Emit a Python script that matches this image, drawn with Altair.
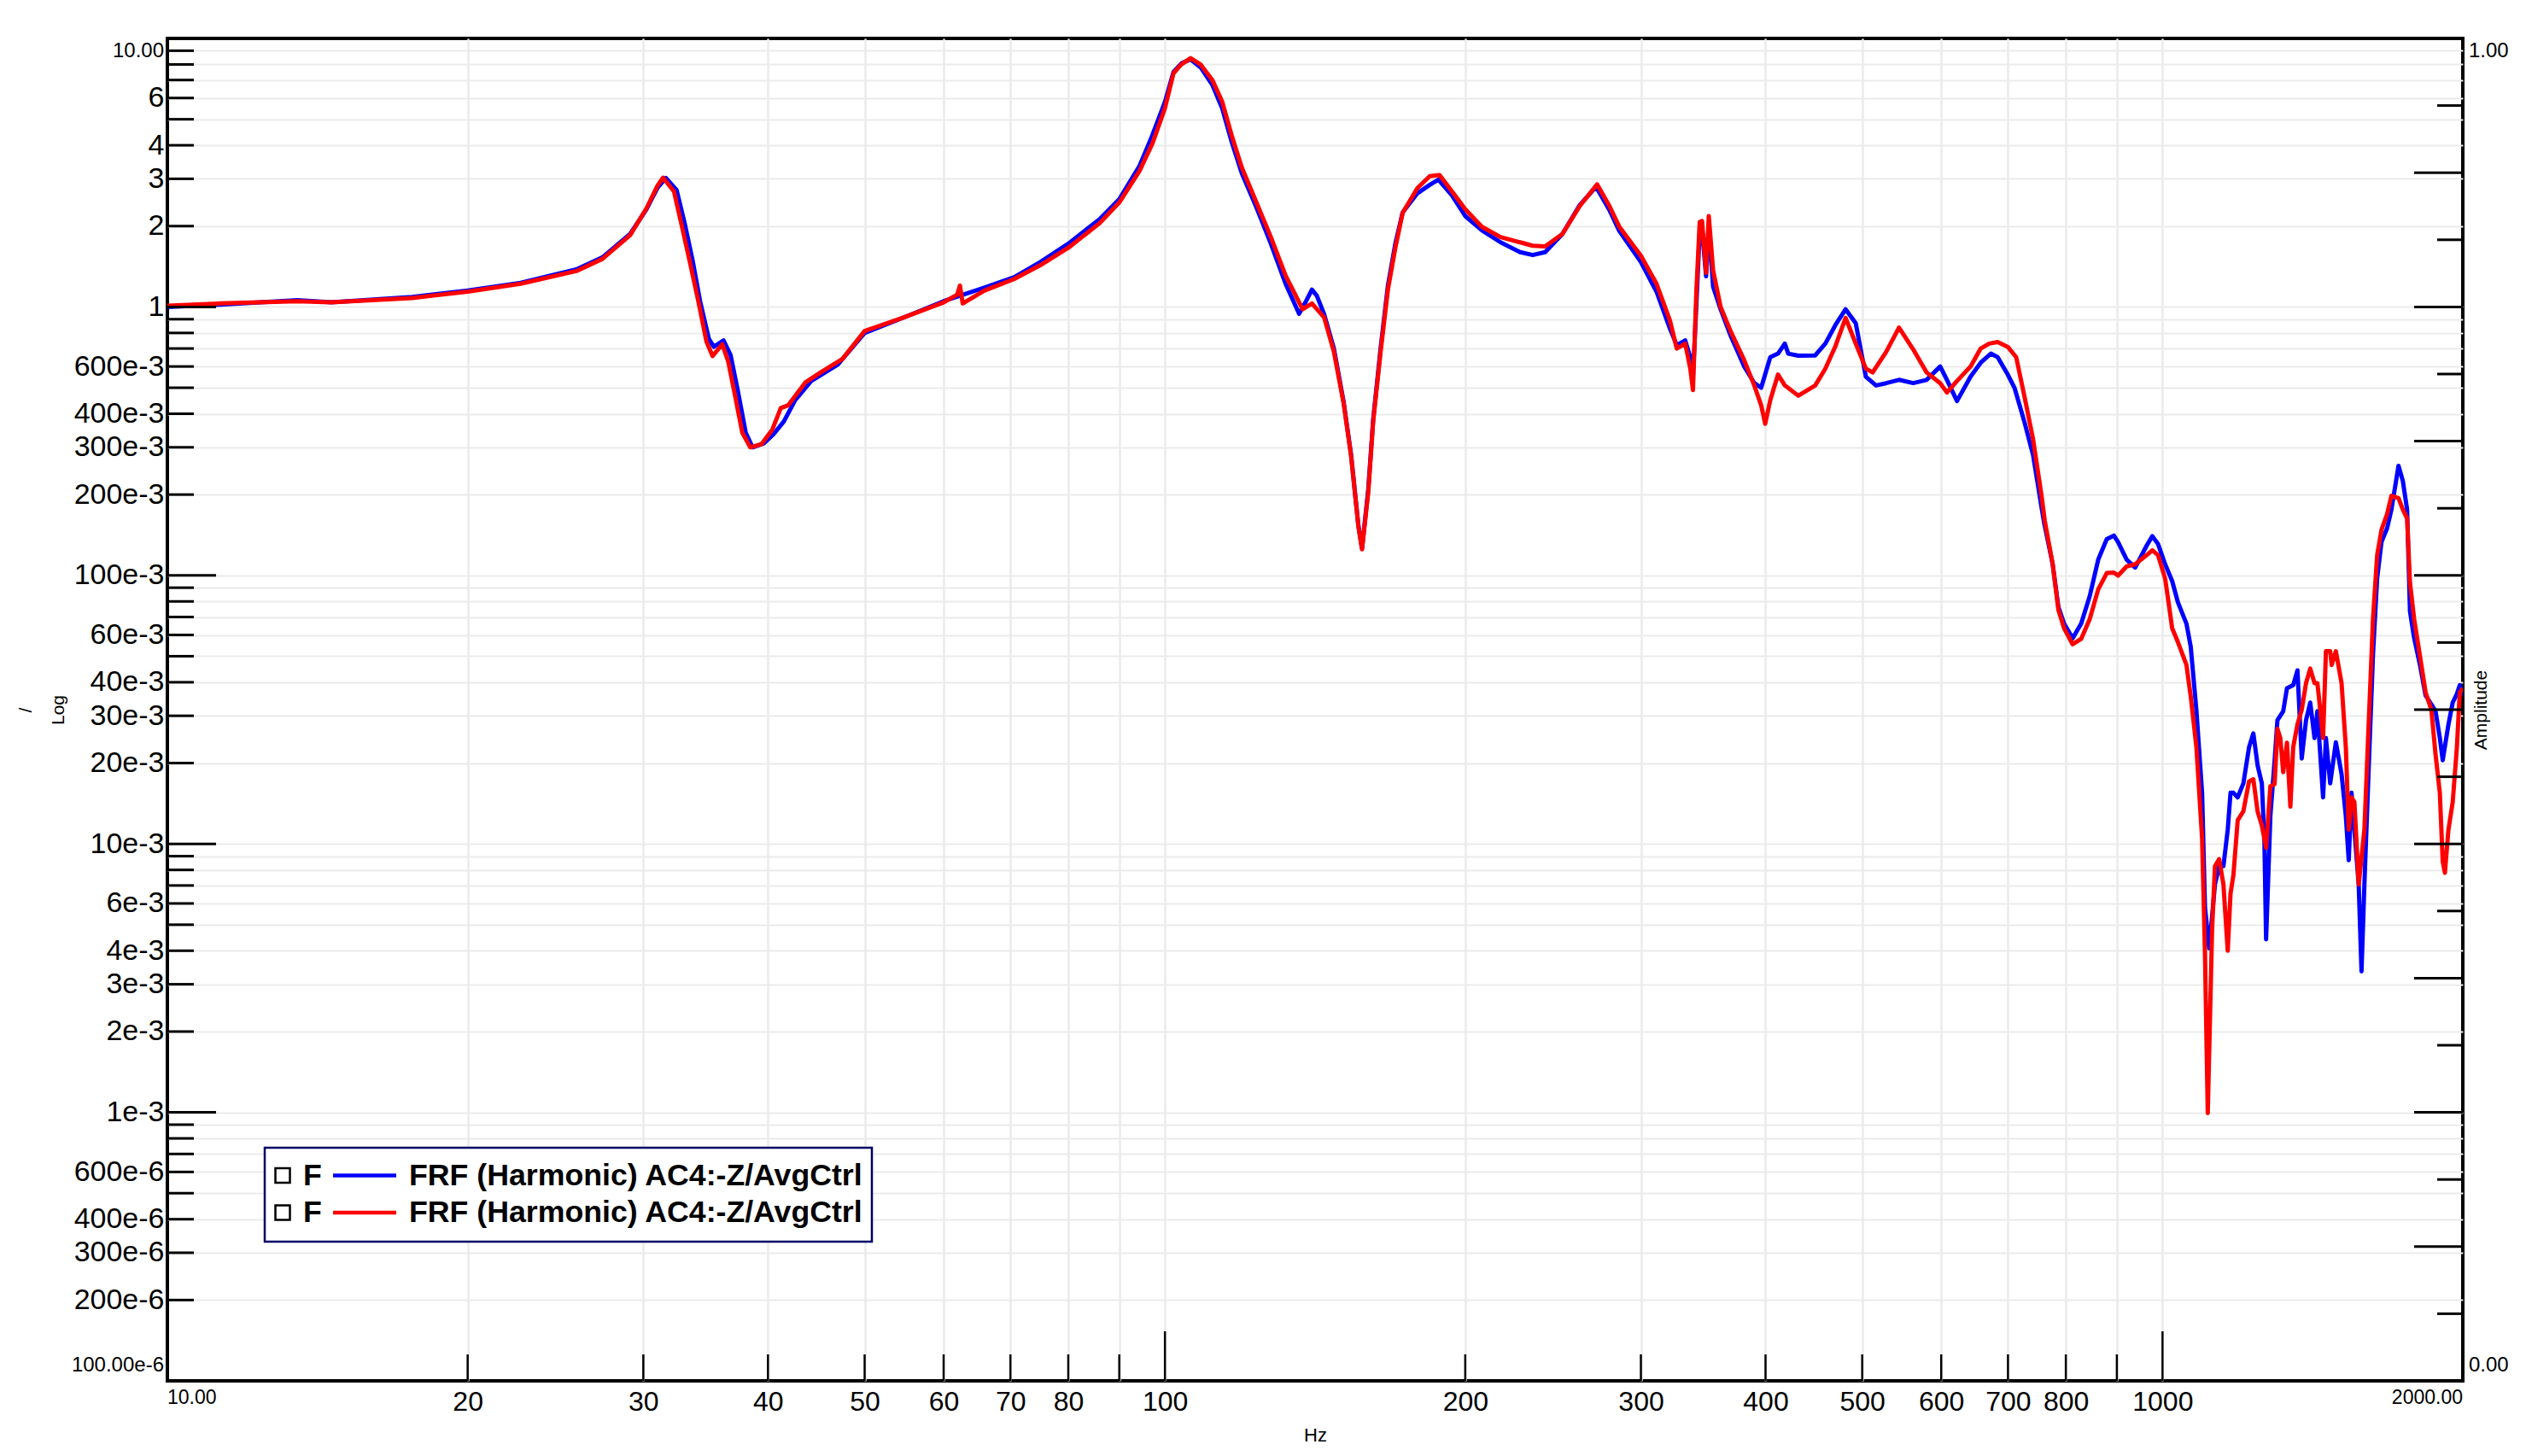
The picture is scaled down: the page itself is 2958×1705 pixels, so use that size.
import altair as alt
import pandas as pd

# ---------------- data ----------------
blue_points = [
    (10.0, 1.00), (11.3, 1.02), (13.5, 1.06), (14.6, 1.04), (17.6, 1.09), (20.0, 1.15), (22.6, 1.23),
    (25.7, 1.38), (27.3, 1.53), (29.1, 1.87), (30.2, 2.30), (31.0, 2.78), (31.6, 3.02), (32.4, 2.72),
    (33.0, 2.05), (33.6, 1.50), (34.2, 1.05), (34.9, 0.76), (35.3, 0.71), (36.1, 0.75), (36.7, 0.66),
    (37.3, 0.49), (38.0, 0.34), (38.6, 0.30), (39.6, 0.31), (40.5, 0.335), (41.5, 0.375), (42.6, 0.45),
    (44.2, 0.53), (47.0, 0.61), (50.0, 0.80), (54.6, 0.91), (60.0, 1.05), (65.9, 1.18), (70.6, 1.29),
    (75.0, 1.47), (80.0, 1.72), (86.0, 2.12), (90.0, 2.52), (94.3, 3.35), (97.0, 4.3), (100.0, 5.8),
    (102.0, 7.5), (104.0, 8.1), (106.1, 8.35), (108.6, 7.8), (111.6, 6.7), (114.1, 5.5), (116.7, 4.1),
    (119.4, 3.15), (123.5, 2.35), (127.7, 1.72), (132.1, 1.22), (136.3, 0.943), (138.5, 1.05),
    (140.4, 1.16), (142.0, 1.10), (144.4, 0.94), (147.7, 0.70), (151.1, 0.44), (153.7, 0.28),
    (156.3, 0.153), (157.6, 0.126), (159.9, 0.21), (161.7, 0.38), (164.5, 0.70), (167.3, 1.2),
    (170.2, 1.72), (173.1, 2.25), (179.1, 2.65), (184.3, 2.85), (188.0, 2.98), (194.0, 2.6),
    (200.0, 2.18), (207.8, 1.93), (217.0, 1.74), (227.0, 1.60), (233.7, 1.56), (240.5, 1.60),
    (250.3, 1.87), (260.6, 2.40), (270.5, 2.80), (278.9, 2.30), (285.4, 1.92), (300.0, 1.47),
    (311.0, 1.14), (320.8, 0.83), (325.9, 0.72), (332.3, 0.75), (336.2, 0.65), (338.3, 0.55),
    (340.9, 1.0), (343.6, 1.9), (345.5, 1.95), (348.7, 1.3), (350.9, 2.0), (354.4, 1.19),
    (360.6, 0.98), (369.1, 0.78), (380.8, 0.60), (389.8, 0.52), (396.0, 0.50), (404.4, 0.65),
    (411.7, 0.67), (418.2, 0.73), (421.5, 0.67), (431.4, 0.658), (448.6, 0.66), (459.2, 0.73),
    (470.1, 0.857), (481.2, 0.98), (492.6, 0.87), (504.2, 0.55), (516.2, 0.51), (528.4, 0.52),
    (544.3, 0.535), (562.4, 0.52), (580.2, 0.535), (598.6, 0.60), (608.0, 0.535), (622.3, 0.446),
    (642.1, 0.55), (657.3, 0.62), (672.9, 0.67), (683.5, 0.65), (699.6, 0.56), (710.6, 0.50),
    (727.5, 0.37), (741.8, 0.28), (756.4, 0.179), (760.9, 0.157), (776.1, 0.110), (786.4, 0.0763),
    (796.8, 0.0661), (812.7, 0.0583), (828.8, 0.0661), (845.3, 0.0836), (862.1, 0.1145),
    (879.3, 0.1366), (893.8, 0.1407), (902.6, 0.133), (920.6, 0.1145), (938.9, 0.107), (964.0, 0.129),
    (976.8, 0.140), (989.7, 0.131), (1006.1, 0.110), (1022.6, 0.0952), (1036.1, 0.0795),
    (1056.8, 0.0661), (1067.3, 0.0543), (1081.4, 0.0314), (1095.7, 0.0155), (1103.0, 0.0058),
    (1113.7, 0.00408), (1128.7, 0.00706), (1139.7, 0.00826), (1151.0, 0.00826), (1162.5, 0.0113),
    (1170.0, 0.0155), (1177.8, 0.0155), (1189.5, 0.0149), (1205.2, 0.0168), (1221.1, 0.0229),
    (1233.3, 0.0258), (1245.5, 0.0196), (1257.7, 0.0168), (1265.0, 0.0105), (1270.1, 0.00441),
    (1282.7, 0.0127), (1295.3, 0.0204), (1303.8, 0.0289), (1321.3, 0.0312), (1332.8, 0.0380),
    (1352.1, 0.0390), (1365.5, 0.0443), (1379.0, 0.0208), (1392.8, 0.0289), (1406.3, 0.0336),
    (1420.3, 0.0248), (1429.8, 0.0312), (1448.7, 0.0149), (1458.2, 0.0248), (1472.6, 0.0168),
    (1492.0, 0.0239), (1511.8, 0.0182), (1526.8, 0.0127), (1537.0, 0.0087), (1547.0, 0.0155),
    (1572.8, 0.00706), (1583.0, 0.00335), (1593.6, 0.00706), (1609.4, 0.0190), (1625.5, 0.0506),
    (1641.2, 0.0975), (1657.6, 0.133), (1679.5, 0.150), (1696.2, 0.176), (1724.2, 0.256),
    (1741.4, 0.225), (1758.7, 0.176), (1770.4, 0.0735), (1787.6, 0.0584), (1811.5, 0.0465),
    (1835.4, 0.0357), (1860.0, 0.0331), (1878.1, 0.0312), (1896.7, 0.0248), (1909.4, 0.0205),
    (1934.7, 0.0278), (1953.9, 0.0336), (1972.9, 0.0362), (1986.1, 0.0390), (2000.0, 0.0357),
]

red_points = [
    (10.0, 1.01), (11.3, 1.03), (13.5, 1.05), (14.6, 1.04), (17.6, 1.08), (20.0, 1.14), (22.6, 1.22),
    (25.7, 1.36), (27.3, 1.51), (29.1, 1.85), (30.2, 2.32), (31.0, 2.83), (31.4, 3.03), (32.2, 2.69),
    (32.8, 1.99), (33.4, 1.47), (34.1, 1.03), (34.7, 0.744), (35.2, 0.656), (36.0, 0.726),
    (36.5, 0.624), (37.0, 0.485), (37.7, 0.34), (38.4, 0.30), (39.4, 0.308), (40.4, 0.349),
    (41.2, 0.42), (41.9, 0.43), (43.6, 0.523), (45.2, 0.571), (47.5, 0.64), (50.0, 0.813),
    (54.6, 0.911), (60.0, 1.04), (61.9, 1.11), (62.3, 1.2), (62.7, 1.03), (65.9, 1.15), (70.6, 1.27),
    (75.0, 1.43), (80.0, 1.66), (86.0, 2.05), (90.0, 2.45), (94.3, 3.21), (97.2, 4.08), (100.0, 5.5),
    (102.0, 7.42), (103.8, 7.99), (106.1, 8.44), (108.6, 7.99), (111.6, 6.98), (114.1, 5.83),
    (116.7, 4.33), (119.4, 3.31), (123.5, 2.45), (127.7, 1.82), (132.1, 1.31), (137.4, 0.98),
    (140.4, 1.03), (144.4, 0.915), (147.7, 0.68), (151.1, 0.434), (153.7, 0.277), (156.3, 0.152),
    (157.6, 0.125), (159.9, 0.205), (161.7, 0.373), (164.5, 0.679), (167.3, 1.16), (170.2, 1.66),
    (173.1, 2.24), (179.1, 2.77), (184.3, 3.07), (188.5, 3.1), (194.0, 2.69), (200.0, 2.31),
    (207.8, 1.99), (217.0, 1.82), (227.0, 1.74), (233.7, 1.69), (240.5, 1.68), (250.3, 1.87),
    (260.6, 2.38), (271.2, 2.86), (278.9, 2.38), (285.4, 1.99), (300.0, 1.55), (311.0, 1.22),
    (320.8, 0.89), (325.9, 0.70), (332.3, 0.73), (336.2, 0.59), (338.3, 0.49), (340.9, 1.12),
    (343.6, 2.07), (345.5, 2.09), (348.7, 1.34), (350.9, 2.18), (354.4, 1.37), (360.6, 1.0),
    (369.1, 0.81), (380.8, 0.633), (389.8, 0.509), (396.0, 0.43), (399.7, 0.367), (404.4, 0.45),
    (411.7, 0.56), (418.2, 0.51), (431.4, 0.467), (448.6, 0.51), (459.2, 0.589), (470.1, 0.715),
    (481.2, 0.91), (492.6, 0.73), (504.2, 0.589), (512.2, 0.57), (528.4, 0.68), (544.3, 0.837),
    (562.4, 0.695), (580.2, 0.57), (598.6, 0.52), (608.0, 0.48), (622.3, 0.53), (642.1, 0.60),
    (657.3, 0.70), (670.3, 0.73), (683.5, 0.74), (699.6, 0.71), (713.4, 0.65), (727.5, 0.46),
    (741.8, 0.321), (756.4, 0.198), (762.0, 0.160), (776.1, 0.110), (786.4, 0.0743), (796.8, 0.0635),
    (812.7, 0.0554), (828.8, 0.058), (845.3, 0.0687), (862.1, 0.0887), (879.3, 0.102),
    (893.8, 0.1025), (902.6, 0.0998), (920.6, 0.108), (938.9, 0.110), (964.0, 0.119), (976.8, 0.124),
    (989.7, 0.119), (1006.1, 0.0974), (1022.6, 0.0635), (1036.1, 0.0565), (1056.8, 0.0464),
    (1067.3, 0.0354), (1081.4, 0.0229), (1095.7, 0.01045), (1103.0, 0.00392), (1110.1, 0.000993),
    (1121.2, 0.00477), (1128.7, 0.00826), (1139.7, 0.00877), (1151.0, 0.00706), (1162.5, 0.0040),
    (1170.0, 0.00653), (1177.8, 0.00764), (1189.5, 0.01224), (1205.2, 0.01323), (1221.1, 0.0171),
    (1233.3, 0.0174), (1245.5, 0.0132), (1257.7, 0.0117), (1270.1, 0.00967), (1282.7, 0.0164),
    (1295.3, 0.0167), (1303.8, 0.0268), (1312.4, 0.0248), (1321.3, 0.0185), (1332.8, 0.0238),
    (1343.3, 0.01376), (1352.1, 0.0229), (1365.5, 0.0279), (1379.0, 0.0316), (1392.8, 0.0397),
    (1406.3, 0.045), (1420.3, 0.0397), (1429.8, 0.0397), (1439.1, 0.0316), (1448.7, 0.0248),
    (1458.2, 0.0522), (1472.6, 0.0522), (1477.7, 0.0464), (1492.0, 0.0522), (1511.8, 0.0397),
    (1526.8, 0.0229), (1537.0, 0.0113), (1547.0, 0.0149), (1557.3, 0.0143), (1572.8, 0.00706),
    (1593.6, 0.0113), (1609.4, 0.0279), (1625.5, 0.0687), (1641.2, 0.119), (1657.6, 0.1477),
    (1679.5, 0.1695), (1696.2, 0.198), (1724.2, 0.194), (1741.4, 0.176), (1758.7, 0.163),
    (1770.4, 0.094), (1787.6, 0.0687), (1811.5, 0.0502), (1835.4, 0.0367), (1860.0, 0.0316),
    (1878.1, 0.0215), (1896.7, 0.0155), (1909.4, 0.0086), (1919.1, 0.0078), (1934.7, 0.0113),
    (1953.9, 0.0143), (1972.9, 0.0229), (1986.1, 0.0367), (2000.0, 0.038),
]

series_colors = ["#0000ff", "#ff0000"]
legend_prefix = ["F", "F"]
legend_labels = ["FRF (Harmonic) AC4:-Z/AvgCtrl", "FRF (Harmonic) AC4:-Z/AvgCtrl"]

y_label_values = [6, 4, 3, 2, 1, 0.6, 0.4, 0.3, 0.2, 0.1, 0.06, 0.04, 0.03, 0.02, 0.01,
                  0.006, 0.004, 0.003, 0.002, 0.001, 0.0006, 0.0004, 0.0003, 0.0002]
y_label_text = ["6", "4", "3", "2", "1", "600e-3", "400e-3", "300e-3", "200e-3", "100e-3",
                "60e-3", "40e-3", "30e-3", "20e-3", "10e-3", "6e-3", "4e-3", "3e-3", "2e-3", "1e-3",
                "600e-6", "400e-6", "300e-6", "200e-6"]
y_edge_values = [10.0, 0.0001]
y_edge_text = ["10.00", "100.00e-6"]
x_label_values = [20, 30, 40, 50, 60, 70, 80, 100, 200, 300, 400, 500, 600, 700, 800, 1000]
x_label_text = ["20", "30", "40", "50", "60", "70", "80", "100", "200", "300", "400",
                "500", "600", "700", "800", "1000"]
x_edge_values = [10.0, 2000.0]
x_edge_text = ["10.00", "2000.00"]
amp_edge_values = [1.0, 0.0]
amp_edge_text = ["1.00", "0.00"]

# tick positions (1..9 per decade)
y_decades = [0.0001, 0.001, 0.01, 0.1, 1.0]
y_ticks_short = [round(m * d, 10) for d in y_decades for m in range(2, 10)]
y_ticks_long = [0.001, 0.01, 0.1, 1.0]
x_ticks_short = [round(m * d, 6) for d in [10, 100] for m in range(2, 10)]
x_ticks_long = [100, 1000]
amp_ticks_short = [0.05, 0.15, 0.25, 0.35, 0.45, 0.55, 0.65, 0.75, 0.85, 0.95]
amp_ticks_long = [0.1, 0.2, 0.3, 0.4, 0.5, 0.6, 0.7, 0.8, 0.9]

# ---------------- layout ----------------
W, H = 2688, 1572
NARROW = "Liberation Sans Narrow, Arial Narrow, Liberation Sans, Arial"
REG = "Liberation Sans, Arial"


def lookup_expr(values, texts):
    expr = "''"
    for v, t in reversed(list(zip(values, texts))):
        tol = abs(v) * 1e-4
        expr = "(abs(datum.value - %r) <= %.3e ? '%s' : %s)" % (v, tol, t, expr)
    return expr


xscale = alt.Scale(type="log", domain=[10, 2000], nice=False)
yscale = alt.Scale(type="log", domain=[0.0001, 10], nice=False)

y_axis = alt.Axis(
    values=sorted(y_ticks_short + y_ticks_long),
    labelExpr=lookup_expr(y_label_values, y_label_text),
    ticks=False, tickSize=0, domain=False,
    grid=True, gridColor="#ebebeb", gridWidth=2,
    labelFont=REG, labelColor="black", labelFontSize=34,
    labelBaseline="middle", labelPadding=4, labelOverlap=False, labelFlush=False,
    title=["/", "Log"], titleAngle=270, titleX=-166, titleY=H / 2,
    titleFont=REG, titleFontSize=21, titleFontWeight="normal", titleLineHeight=38,
    titleAlign="center", titleBaseline="middle", titleColor="black",
)

x_axis = alt.Axis(
    values=x_ticks_short[:8] + [100] + x_ticks_short[8:] + [1000],
    labelExpr=lookup_expr(x_label_values, x_label_text),
    ticks=False, tickSize=0, domain=False,
    grid=True, gridColor="#ebebeb", gridWidth=2.5,
    labelFont=NARROW, labelFontSize=32,
    labelColor="black", labelPadding=9, labelOverlap=False, labelFlush=False,
    title="Hz", titleFont=NARROW, titleFontSize=22, titleFontWeight="normal",
    titleX=W / 2, titleY=63, titleAlign="center", titleBaseline="middle", titleColor="black",
)

blue_df = pd.DataFrame(blue_points, columns=["f", "v"])
red_df = pd.DataFrame(red_points, columns=["f", "v"])

# (other layers share these scales and omit the axis spec, so the explicit one is used)
blue_line = alt.Chart(blue_df).mark_line(color=series_colors[0], strokeWidth=5, clip=True,
                                         strokeJoin="round").encode(
    x=alt.X("f:Q", scale=xscale, axis=x_axis),
    y=alt.Y("v:Q", scale=yscale, axis=y_axis),
)
red_line = alt.Chart(red_df).mark_line(color=series_colors[1], strokeWidth=5, clip=True,
                                       strokeJoin="round").encode(
    x=alt.X("f:Q", scale=xscale),
    y=alt.Y("v:Q", scale=yscale),
)

# inward tick marks
yts = alt.Chart(pd.DataFrame({"v": y_ticks_short})).mark_rule(color="black", strokeWidth=3).encode(
    y=alt.Y("v:Q", scale=yscale), x=alt.value(0), x2=alt.value(31))
ytl = alt.Chart(pd.DataFrame({"v": y_ticks_long})).mark_rule(color="black", strokeWidth=3).encode(
    y=alt.Y("v:Q", scale=yscale), x=alt.value(0), x2=alt.value(57))
xts = alt.Chart(pd.DataFrame({"f": x_ticks_short})).mark_rule(color="black", strokeWidth=2.5).encode(
    x=alt.X("f:Q", scale=xscale), y=alt.value(H), y2=alt.value(H - 31))
xtl = alt.Chart(pd.DataFrame({"f": x_ticks_long})).mark_rule(color="black", strokeWidth=2.5).encode(
    x=alt.X("f:Q", scale=xscale), y=alt.value(H), y2=alt.value(H - 58))

# small edge labels (range ends)
y_top = alt.Chart(pd.DataFrame({"v": y_edge_values[:1], "t": y_edge_text[:1]})).mark_text(
    align="right", baseline="middle", font=REG, fontSize=24, color="black", dy=15).encode(
    y=alt.Y("v:Q", scale=yscale), x=alt.value(-4), text="t:N")
y_bot = alt.Chart(pd.DataFrame({"v": y_edge_values[1:], "t": y_edge_text[1:]})).mark_text(
    align="right", baseline="middle", font=REG, fontSize=24, color="black", dy=-18).encode(
    y=alt.Y("v:Q", scale=yscale), x=alt.value(-4), text="t:N")
x_left = alt.Chart(pd.DataFrame({"f": x_edge_values[:1], "t": x_edge_text[:1]})).mark_text(
    align="left", baseline="top", font=REG, fontSize=23, color="black").encode(
    x=alt.X("f:Q", scale=xscale), y=alt.value(H + 9), text="t:N")
x_right = alt.Chart(pd.DataFrame({"f": x_edge_values[1:], "t": x_edge_text[1:]})).mark_text(
    align="right", baseline="top", font=REG, fontSize=23, color="black").encode(
    x=alt.X("f:Q", scale=xscale), y=alt.value(H + 9), text="t:N")

# legend box
LX0, LX1, LY0, LY1 = 114, 825, 1299, 1409
ROW_Y = [1331.5, 1375]
leg_layers = [
    alt.Chart(pd.DataFrame({"k": [0]})).mark_rect(fill="white", stroke="#000066", strokeWidth=2.5).encode(
        x=alt.value(LX0), x2=alt.value(LX1), y=alt.value(LY0), y2=alt.value(LY1))
]
for i in range(2):
    d = pd.DataFrame({"tag": [legend_prefix[i]], "label": [legend_labels[i]]})
    yy = ROW_Y[i]
    leg_layers.append(alt.Chart(d).mark_square(size=17 * 17, filled=False, stroke="black",
                                               strokeWidth=2.5, opacity=1).encode(
        x=alt.value(135), y=alt.value(yy)))
    leg_layers.append(alt.Chart(d).mark_text(align="left", baseline="middle", font=REG,
                                             fontWeight="bold", fontSize=35.7, color="black").encode(
        x=alt.value(159), y=alt.value(yy), text="tag:N"))
    leg_layers.append(alt.Chart(d).mark_rule(color=series_colors[i], strokeWidth=4.5).encode(
        x=alt.value(194), x2=alt.value(268), y=alt.value(yy)))
    leg_layers.append(alt.Chart(d).mark_text(align="left", baseline="middle", font=REG,
                                             fontWeight="bold", fontSize=35.7, color="black").encode(
        x=alt.value(283), y=alt.value(yy), text="label:N"))

inner = alt.layer(blue_line, red_line, yts, ytl, xts, xtl, y_top, y_bot, x_left, x_right, *leg_layers)

# right "Amplitude" axis (linear 0..1)
ascale = alt.Scale(type="linear", domain=[0, 1], nice=False, zero=False)
a_axis = alt.Axis(
    orient="right", values=[0.5], labelExpr="''",
    ticks=False, tickSize=0, domain=False, grid=False,
    title="Amplitude", titleAngle=270, titleX=21, titleY=H / 2, titleFont=REG,
    titleFontSize=21, titleFontWeight="normal", titleAlign="center", titleBaseline="middle",
    titleColor="black",
)
ras = alt.Chart(pd.DataFrame({"a": amp_ticks_short})).mark_rule(color="black", strokeWidth=3).encode(
    y=alt.Y("a:Q", scale=ascale, axis=a_axis), x=alt.value(W - 30), x2=alt.value(W))
ral = alt.Chart(pd.DataFrame({"a": amp_ticks_long})).mark_rule(color="black", strokeWidth=3).encode(
    y=alt.Y("a:Q", scale=ascale), x=alt.value(W - 57), x2=alt.value(W))
a_top = alt.Chart(pd.DataFrame({"a": amp_edge_values[:1], "t": amp_edge_text[:1]})).mark_text(
    align="left", baseline="middle", font=REG, fontSize=24, color="black", dy=15).encode(
    y=alt.Y("a:Q", scale=ascale), x=alt.value(W + 7), text="t:N")
a_bot = alt.Chart(pd.DataFrame({"a": amp_edge_values[1:], "t": amp_edge_text[1:]})).mark_text(
    align="left", baseline="middle", font=REG, fontSize=24, color="black", dy=-18).encode(
    y=alt.Y("a:Q", scale=ascale), x=alt.value(W + 7), text="t:N")
right = alt.layer(ras, ral, a_top, a_bot)

chart = alt.layer(inner, right).resolve_scale(y="independent").properties(
    width=W, height=H,
    padding={"left": 188, "top": 37, "right": 66, "bottom": 80},
    autosize=alt.AutoSizeParams(type="none"),
    background="white",
).configure_view(stroke="black", strokeWidth=4)

chart.save("out.html", embed_options={"renderer": "svg", "actions": False})
